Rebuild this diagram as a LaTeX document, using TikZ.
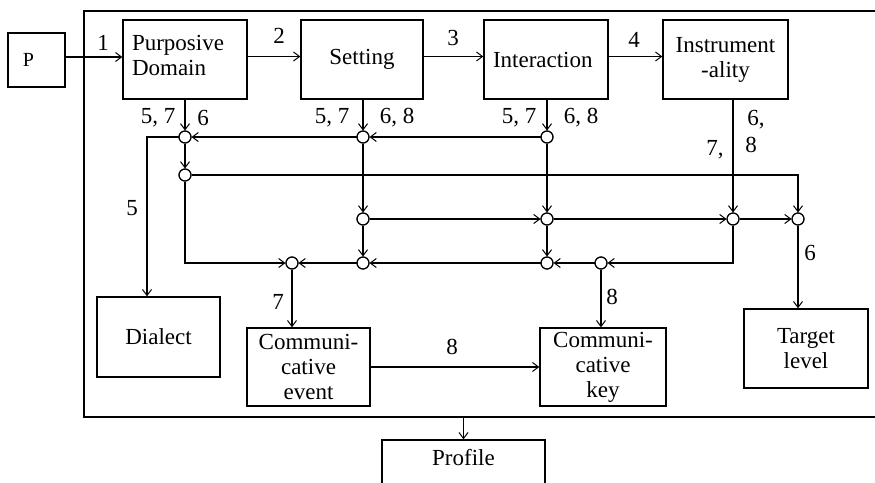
\documentclass[tikz,border=0pt]{standalone}
\usepackage{fontspec}
\setmainfont{Liberation Serif}
\usetikzlibrary{arrows.meta}
\begin{document}
\begin{tikzpicture}[x=1pt,y=-1pt,
  box/.style={draw, line width=1.4pt, rectangle, align=center, inner sep=0pt,
    font=\fontsize{23}{25}\selectfont},
  lbox/.style={box, align=left, text width=106pt},
  junc/.style={draw, circle, line width=1pt, minimum size=12pt, inner sep=0pt, fill=white},
  lab/.style={inner sep=0pt, font=\fontsize{23}{25}\selectfont},
  arr/.style={line width=1.1pt, -{Straight Barb[length=6pt,width=9pt,line width=1pt]}},
  ln/.style={line width=1.1pt}]
\useasboundingbox (0,0) rectangle (875,482);
% outer frame
\draw[line width=1.4pt] (885,11) -- (84,11) -- (84,417) -- (885,417);
\coordinate (fb) at (463.5,417);
% boxes
\node[box, minimum width=57pt, minimum height=54pt, text width=27pt, align=left, inner xsep=15pt, font=\fontsize{20}{21}\selectfont] (P) at (36.5,60) {P};
\node[lbox, minimum width=124pt, minimum height=79pt, text height=16pt, text depth=34pt] (pd) at (185,59.5) {Purposive\\Domain};
\node[box, minimum width=122pt, minimum height=79pt] (set) at (362,59.5) {Setting};
\node[lbox, minimum width=124pt, minimum height=79pt] (inter) at (546,59.5) {Interaction};
\node[box, minimum width=125pt, minimum height=79pt] (instr) at (725.5,59.5) {Instrument\\-ality};
\node[box, minimum width=123pt, minimum height=80pt] (dial) at (158.5,337) {Dialect};
\node[box, minimum width=123pt, minimum height=78pt] (cevent) at (308.5,367) {Communi-\\cative\\event};
\node[box, minimum width=126pt, minimum height=78pt] (ckey) at (603,367) {Communi-\\cative\\key};
\node[box, minimum width=124pt, minimum height=79pt] (target) at (806,348.5) {Target\\level};
\node[box, minimum width=163pt, minimum height=60pt, text height=16pt, text depth=26pt] (prof) at (463.5,470) {Profile};
% junctions
\node[junc] (c11) at (185,137) {};
\node[junc] (c12) at (363,137) {};
\node[junc] (c13) at (547,137) {};
\node[junc] (c21) at (185,175) {};
\node[junc] (c31) at (363,219) {};
\node[junc] (c32) at (547,219) {};
\node[junc] (c33) at (733,219) {};
\node[junc] (c34) at (798,219) {};
\node[junc] (c41) at (292,263) {};
\node[junc] (c42) at (363,263) {};
\node[junc] (c43) at (547,263) {};
\node[junc] (c44) at (601,263) {};
\coordinate (k1) at (147,137);
% top row
\draw[arr] ([yshift=3pt]P.east) -- ([yshift=3pt]P.east -| pd.west);
\draw[arr] ([yshift=3pt]set.west -| pd.east) -- ([yshift=3pt]set.west);
\draw[arr] ([yshift=3pt]set.east) -- ([yshift=3pt]inter.west);
\draw[arr] ([yshift=3pt]inter.east) -- ([yshift=3pt]instr.west);
% verticals from boxes
\draw[arr] (pd.south) -- (c11);
\draw[arr] (set.south -| c12) -- (c12);
\draw[arr] (inter.south -| c13) -- (c13);
\draw[arr] (instr.south -| c33) -- (c33);
% row 1
\draw[arr] (c13) -- (c12);
\draw[arr] (c12) -- (c11);
\draw[arr] (c11) -- (c21);
\draw[arr] (c11) -- (k1) -- (dial.north -| k1);
\draw[arr] (c12) -- (c31);
\draw[arr] (c13) -- (c32);
% long line
\draw[arr] (c21) -| (c34);
% row 2
\draw[arr] (c31) -- (c32);
\draw[arr] (c32) -- (c33);
\draw[arr] (c33) -- (c34);
\draw[arr] (c31) -- (c42);
\draw[arr] (c32) -- (c43);
% row 3
\draw[arr] (c21) |- (c41);
\draw[arr] (c33) |- (c44);
\draw[arr] (c44) -- (c43);
\draw[arr] (c43) -- (c42);
\draw[arr] (c42) -- (c41);
% to bottom boxes
\draw[arr] (c41) -- (cevent.north -| c41);
\draw[arr] (c44) -- (ckey.north -| c44);
\draw[arr] (c34) -- (target.north -| c34);
\draw[arr] (cevent.east) -- (ckey.west);
\draw[arr] (fb) -- (prof.north);
% redraw junctions on top
\foreach \n in {c11,c12,c13,c21,c31,c32,c33,c34,c41,c42,c43,c44}
  \draw[line width=1.1pt] (\n) circle[radius=6pt];
% labels
\node[lab] (l1) at (103,43) {1};
\node[lab] (l2) at (279,36) {2};
\node[lab] (l3) at (453,38) {3};
\node[lab] (l4) at (634,40) {4};
\node[lab] (l5a) at (158,118) {5, 7};
\node[lab] (l6a) at (203,118) {6};
\node[lab] (l5b) at (332,118) {5, 7};
\node[lab] (l6b) at (397,118) {6, 8};
\node[lab] (l5c) at (519,118) {5, 7};
\node[lab] (l6c) at (581,118) {6, 8};
\node[lab] (l6d) at (756,120) {6,};
\node[lab] (l8d) at (751,145) {8};
\node[lab] (l7d) at (715,150) {7,};
\node[lab] (l5e) at (132,208) {5};
\node[lab] (l7e) at (278,302) {7};
\node[lab] (l8e) at (612,297) {8};
\node[lab] (l6e) at (810,253) {6};
\node[lab] (l8f) at (452,347) {8};
\end{tikzpicture}
\end{document}
